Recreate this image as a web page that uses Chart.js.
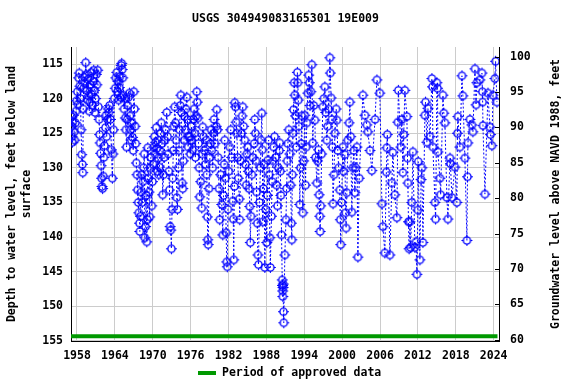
<!DOCTYPE html>
<html>
<head>
<meta charset="utf-8">
<script src="https://cdn.jsdelivr.net/npm/chart.js@4"></script>
<style>
  html, body { margin: 0; padding: 0; background: #fff; }
  canvas { display: block; }
</style>
</head>
<body>
<canvas id="chart" width="576" height="384"></canvas>
<script>
// water level measurements, decimal year and depth below land surface (ft)
const obsYears = [
  1957.10, 1957.15, 1957.20, 1957.25, 1957.35, 1957.45, 1957.55, 1957.65, 1957.75, 1957.85, 1957.95,
  1958.05, 1958.15, 1958.25, 1958.35, 1958.45, 1958.55, 1958.65, 1958.75, 1958.85, 1958.92, 1958.98,
  1959.05, 1959.15, 1959.25, 1959.38, 1959.45, 1959.55, 1959.65, 1959.75, 1959.85, 1959.95,
  1960.05, 1960.15, 1960.25, 1960.35, 1960.45, 1960.55, 1960.65, 1960.75, 1960.85, 1960.95,
  1961.05, 1961.15, 1961.28, 1961.40, 1961.50, 1961.58, 1961.66, 1961.74, 1961.82, 1961.90, 1961.96,
  1962.05, 1962.15, 1962.25, 1962.35, 1962.50, 1962.60, 1962.70, 1962.85, 1962.95,
  1963.05, 1963.15, 1963.30, 1963.45, 1963.60, 1963.70, 1963.80, 1963.90,
  1964.05, 1964.15, 1964.30, 1964.40, 1964.50, 1964.60, 1964.70, 1964.80, 1964.90,
  1965.00, 1965.08, 1965.15, 1965.25, 1965.35, 1965.45, 1965.55, 1965.65, 1965.75, 1965.85, 1965.95,
  1966.05, 1966.15, 1966.30, 1966.40, 1966.50, 1966.60, 1966.70, 1966.80, 1966.90,
  1967.00, 1967.10, 1967.20, 1967.30, 1967.40, 1967.50, 1967.60, 1967.70, 1967.80, 1967.90, 1967.95,
  1968.05, 1968.15, 1968.25, 1968.35, 1968.45, 1968.55, 1968.65, 1968.75, 1968.85, 1968.95,
  1969.05, 1969.15, 1969.21, 1969.30, 1969.40, 1969.52, 1969.60, 1969.70, 1969.84, 1969.95,
  1970.05, 1970.15, 1970.25, 1970.35, 1970.45, 1970.55, 1970.65, 1970.75, 1970.85, 1970.95,
  1971.05, 1971.15, 1971.25, 1971.35, 1971.45, 1971.58, 1971.70, 1971.80, 1971.90,
  1972.05, 1972.22, 1972.35, 1972.45, 1972.55, 1972.65, 1972.75, 1972.85, 1972.95,
  1973.05, 1973.15, 1973.25, 1973.35, 1973.48, 1973.60, 1973.70, 1973.80, 1973.90,
  1974.05, 1974.15, 1974.25, 1974.35, 1974.45, 1974.55, 1974.65, 1974.75, 1974.85, 1974.95,
  1975.05, 1975.15, 1975.25, 1975.39, 1975.50, 1975.60, 1975.70, 1975.86, 1975.95,
  1976.05, 1976.15, 1976.34, 1976.45, 1976.55, 1976.65, 1976.75, 1976.85, 1976.97,
  1977.05, 1977.15, 1977.25, 1977.35, 1977.45, 1977.60, 1977.76, 1977.85, 1977.92,
  1978.05, 1978.15, 1978.30, 1978.45, 1978.56, 1978.65, 1978.71, 1978.78, 1978.90,
  1979.05, 1979.15, 1979.25, 1979.35, 1979.50, 1979.60, 1979.70, 1979.85,
  1980.05, 1980.14, 1980.25, 1980.35, 1980.50, 1980.61, 1980.75, 1980.93,
  1981.09, 1981.20, 1981.30, 1981.40, 1981.50, 1981.62, 1981.72, 1981.80, 1981.90,
  1982.05, 1982.20, 1982.35, 1982.50, 1982.67, 1982.75, 1982.83, 1982.92, 1982.99,
  1983.10, 1983.20, 1983.31, 1983.45, 1983.55, 1983.70, 1983.78, 1983.90,
  1984.05, 1984.15, 1984.26, 1984.40, 1984.58, 1984.70, 1984.80, 1984.90,
  1985.05, 1985.15, 1985.25, 1985.37, 1985.45, 1985.55, 1985.70, 1985.85,
  1986.05, 1986.16, 1986.25, 1986.35, 1986.45, 1986.55, 1986.65, 1986.75, 1986.90,
  1987.05, 1987.15, 1987.27, 1987.35, 1987.43, 1987.55, 1987.65, 1987.75, 1987.90,
  1988.06, 1988.15, 1988.22, 1988.35, 1988.45, 1988.54, 1988.62, 1988.80, 1988.90,
  1989.05, 1989.15, 1989.30, 1989.45, 1989.60, 1989.75, 1989.90,
  1990.05, 1990.12, 1990.20, 1990.30, 1990.40, 1990.50, 1990.55, 1990.58, 1990.60, 1990.63, 1990.66, 1990.70, 1990.75, 1990.92,
  1991.10, 1991.20, 1991.30, 1991.40, 1991.55, 1991.71, 1991.85, 1991.95,
  1992.03, 1992.10, 1992.20, 1992.30, 1992.40, 1992.50, 1992.60, 1992.75, 1992.90, 1992.98,
  1993.05, 1993.15, 1993.29, 1993.40, 1993.50, 1993.60, 1993.77, 1993.90,
  1994.09, 1994.20, 1994.30, 1994.40, 1994.56, 1994.70, 1994.80, 1994.90,
  1995.05, 1995.20, 1995.35, 1995.50, 1995.67, 1995.80, 1995.99,
  1996.10, 1996.25, 1996.35, 1996.45, 1996.50, 1996.60, 1996.75, 1996.94,
  1997.10, 1997.26, 1997.40, 1997.57, 1997.70, 1997.85,
  1998.05, 1998.12, 1998.25, 1998.37, 1998.45, 1998.55, 1998.70, 1998.85,
  1999.05, 1999.16, 1999.30, 1999.45, 1999.63, 1999.70, 1999.78, 1999.90,
  2000.11, 2000.25, 2000.43, 2000.55, 2000.62, 2000.74, 2000.90,
  2001.10, 2001.22, 2001.35, 2001.53, 2001.70, 2001.85,
  2002.01, 2002.15, 2002.33, 2002.49, 2002.70,
  2003.28, 2003.60, 2003.91,
  2004.07, 2004.40, 2004.70,
  2005.20, 2005.50, 2005.97,
  2006.29, 2006.45, 2006.76,
  2007.00, 2007.08, 2007.15, 2007.56, 2007.87,
  2008.03, 2008.35, 2008.67, 2008.82, 2008.90,
  2009.30, 2009.46, 2009.62, 2009.75, 2009.93,
  2010.25, 2010.35, 2010.41, 2010.50, 2010.60, 2010.73, 2010.85,
  2011.04, 2011.20, 2011.52, 2011.70, 2011.84, 2011.99,
  2012.05, 2012.31, 2012.50, 2012.63, 2012.79,
  2013.10, 2013.20, 2013.42, 2013.58, 2013.90,
  2014.21, 2014.30, 2014.37, 2014.69, 2014.80,
  2015.01, 2015.10, 2015.16, 2015.48, 2015.60, 2015.96,
  2016.10, 2016.27, 2016.59, 2016.75,
  2017.07, 2017.15, 2017.38, 2017.86,
  2018.17, 2018.25, 2018.33, 2018.65, 2018.97,
  2019.12, 2019.44, 2019.76, 2019.85, 2019.92,
  2020.23, 2020.55, 2020.71,
  2021.03, 2021.20, 2021.34, 2021.82,
  2022.14, 2022.20, 2022.25, 2022.30, 2022.61,
  2023.09, 2023.40, 2023.50, 2023.72, 2023.88,
  2024.19, 2024.30, 2024.51
]
const obsDepths = [
  122.6, 124.0, 125.5, 126.3, 123.3, 122.4, 124.8, 126.0, 123.5, 121.8, 120.3,
  119.0, 120.8, 117.0, 116.3, 118.2, 120.0, 124.5, 128.1, 129.5, 130.7, 121.5,
  118.5, 116.9, 117.8, 114.8, 116.5, 118.8, 120.2, 117.2, 119.6, 121.8,
  120.5, 118.0, 116.2, 119.4, 121.0, 117.5, 115.9, 118.8, 122.0, 120.0,
  116.5, 118.0, 115.9, 121.2, 123.0, 125.2, 126.4, 127.9, 129.7, 131.5, 132.7,
  133.0, 131.2, 128.5, 126.8, 124.2, 122.4, 125.5, 123.0, 121.5,
  122.0, 121.0, 123.0, 127.4, 131.5, 128.0, 124.5, 120.0,
  118.5, 117.0, 116.2, 119.0, 117.5, 120.2, 118.4, 116.8, 119.8,
  115.2, 114.9, 115.8, 117.0, 119.5, 121.5, 120.0, 122.8, 124.5, 127.0, 123.0,
  121.0, 119.8, 119.2, 122.5, 124.5, 126.0, 123.5, 125.6, 127.5,
  119.0, 121.5, 124.0, 126.5, 129.3, 131.0, 133.2, 135.0, 136.5, 138.0, 139.2,
  137.0, 133.5, 131.0, 135.0, 132.0, 130.0, 128.0, 140.1, 138.5, 134.0,
  140.7, 137.5, 127.1, 131.5, 133.5, 137.1, 130.0, 128.5, 135.5, 132.0,
  129.5, 127.0, 125.5, 128.0, 126.3, 124.2, 127.2, 130.5, 128.6, 131.0,
  129.9, 127.5, 125.0, 123.5, 126.5, 133.9, 131.0, 128.5, 126.0,
  124.5, 122.0, 125.5, 128.0, 130.5, 133.2, 138.5, 139.0, 141.7,
  136.0, 131.5, 127.5, 124.0, 121.2, 123.5, 126.0, 134.3, 136.0,
  130.0, 127.5, 124.5, 121.0, 119.5, 122.0, 132.2, 133.0, 129.0, 126.0,
  122.6, 124.5, 121.5, 119.8, 123.0, 127.0, 125.5, 125.5, 128.0,
  126.0, 124.0, 127.4, 123.0, 121.5, 125.0, 128.5, 122.5, 119.0,
  120.5, 122.8, 126.5, 130.0, 134.2, 132.0, 135.8, 128.0, 124.1,
  125.5, 127.5, 129.5, 126.0, 131.0, 137.1, 140.4, 141.1, 133.0,
  128.5, 126.5, 124.5, 127.5, 130.0, 125.0, 123.0, 126.5,
  124.0, 121.6, 124.5, 128.5, 133.0, 137.5, 131.0, 135.3,
  139.7, 134.0, 129.5, 126.0, 131.5, 139.4, 143.6, 144.3, 136.0,
  130.5, 127.0, 124.5, 128.5, 134.8, 137.4, 143.3, 132.7, 120.6,
  121.2, 123.4, 125.0, 128.5, 131.5, 134.5, 137.5, 129.0,
  125.0, 122.5, 121.2, 124.0, 126.0, 129.5, 132.5, 128.0,
  127.0, 130.5, 133.0, 135.6, 140.8, 137.0, 131.0, 128.5,
  126.5, 123.0, 125.0, 129.0, 133.5, 138.0, 142.6, 144.0, 135.0,
  130.0, 126.0, 122.1, 127.4, 137.8, 133.0, 129.5, 144.4, 136.0,
  140.8, 134.0, 128.9, 126.0, 131.0, 140.1, 144.4, 137.0, 132.0,
  129.0, 127.0, 125.5, 128.5, 132.5, 135.5, 130.0,
  127.5, 126.4, 130.5, 134.0, 139.7, 146.2, 147.0, 147.8, 148.6, 147.3, 146.8, 150.8, 152.4, 142.6,
  137.5, 133.0, 129.0, 126.5, 124.5, 128.0, 132.5, 138.0,
  140.4, 131.0, 125.0, 121.6, 117.7, 119.5, 122.5, 127.0, 116.2, 117.7,
  120.2, 124.0, 135.3, 130.0, 126.5, 122.5, 136.5, 129.0,
  122.4, 132.5, 127.0, 123.5, 119.2, 116.6, 117.7, 121.0,
  119.0, 115.1, 126.4, 121.0, 123.1, 128.5, 132.2,
  129.0, 127.4, 133.9, 137.0, 139.2, 135.5, 128.0, 121.2,
  120.0, 118.3, 122.0, 126.0, 124.0, 121.5,
  114.1, 116.3, 119.9, 123.0, 127.0, 135.2, 131.0, 125.0,
  121.5, 123.1, 127.5, 130.0, 133.2, 137.5, 141.1, 135.0,
  127.0, 130.5, 128.1, 136.5, 138.7, 133.6, 126.0,
  123.5, 120.5, 125.5, 136.4, 130.0, 127.5,
  133.6, 130.0, 127.0, 142.9, 131.5,
  119.5, 122.4, 123.8,
  124.8, 127.5, 130.4,
  123.0, 117.3, 119.2,
  135.2, 138.5, 142.3,
  130.6, 127.1, 125.2, 142.6, 132.2,
  127.8, 133.9, 137.2, 123.4, 118.8,
  127.0, 123.0, 130.7, 125.2, 118.8,
  122.6, 128.6, 132.2, 137.8, 141.7, 137.8, 141.5,
  135.0, 127.7, 141.5, 140.7, 145.4, 136.1,
  129.1, 143.3, 131.7, 130.0, 140.8,
  122.4, 120.5, 126.3, 121.4, 125.5,
  117.1, 118.3, 127.0, 135.0, 137.4,
  117.7, 118.5, 127.7, 131.5, 133.9, 119.5,
  122.1, 123.5, 134.3, 137.4,
  128.6, 129.4, 134.3, 129.9,
  135.0, 125.0, 122.6, 127.0, 116.7,
  119.6, 128.6, 140.5, 131.3, 126.4,
  123.0, 123.8, 124.8,
  115.7, 120.9, 117.7, 117.3,
  116.3, 119.0, 120.5, 123.9, 133.8,
  119.2, 124.1, 125.2, 126.8, 119.5,
  117.1, 114.6, 120.5
]

// period of approved data (start, end) drawn near the bottom of the plot
const approvedSpan = [1957.05, 2024.6]
const approvedDepth = 154.35

const yearTicks = [1958, 1964, 1970, 1976, 1982, 1988, 1994, 2000, 2006, 2012, 2018, 2024]
const depthTicks = [115, 120, 125, 130, 135, 140, 145, 150, 155]
const elevTicks = [60, 65, 70, 75, 80, 85, 90, 95, 100]

const FONT = 'bold 11.5px "DejaVu Sans Mono", "Liberation Mono", monospace'
const BLUE = '#0000ff'
const GREEN = '#009900'

// hollow circle with little notches, like the usgs marker
function makeMarker() {
  const c = document.createElement('canvas')
  c.width = 13
  c.height = 13
  const g = c.getContext('2d')
  g.strokeStyle = BLUE
  g.lineWidth = 1.4
  g.beginPath()
  g.arc(6.5, 6.5, 3.6, 0, Math.PI * 2)
  g.stroke()
  g.fillStyle = BLUE
  g.fillRect(6, 1, 1, 2)
  g.fillRect(6, 10, 1, 2)
  g.fillRect(1, 6, 2, 1)
  g.fillRect(10, 6, 2, 1)
  return c
}

const frameText = {
  id: 'frameText',
  afterDraw(chart) {
    const { ctx, chartArea, scales } = chart
    ctx.save()

    // short inward ticks on the right axis
    ctx.strokeStyle = '#000'
    ctx.lineWidth = 1
    elevTicks.forEach(v => {
      const y = Math.round(scales.yRight.getPixelForValue(v)) + 0.5
      ctx.beginPath()
      ctx.moveTo(chartArea.right - 4, y)
      ctx.lineTo(chartArea.right, y)
      ctx.stroke()
    })

    ctx.fillStyle = '#000'
    ctx.font = FONT
    ctx.textAlign = 'center'
    ctx.textBaseline = 'middle'
    ctx.fillText('USGS 304949083165301 19E009', 285.5, 19)

    ctx.save()
    ctx.translate(12, 194)
    ctx.rotate(-Math.PI / 2)
    ctx.fillText('Depth to water level, feet below land', 0, 0)
    ctx.restore()
    ctx.save()
    ctx.translate(27, 194)
    ctx.rotate(-Math.PI / 2)
    ctx.fillText('surface', 0, 0)
    ctx.restore()

    ctx.save()
    ctx.translate(556, 194)
    ctx.rotate(-Math.PI / 2)
    ctx.fillText('Groundwater level above NAVD 1988, feet', 0, 0)
    ctx.restore()

    // legend
    ctx.fillStyle = GREEN
    ctx.fillRect(198, 371, 18, 4)
    ctx.fillStyle = '#000'
    ctx.textAlign = 'left'
    ctx.fillText('Period of approved data', 222, 373)
    ctx.restore()
  }
}

const points = obsYears.map((x, i) => ({ x: x, y: obsDepths[i] }))

new Chart(document.getElementById('chart'), {
  type: 'scatter',
  data: {
    datasets: [
      {
        label: 'Period of approved data',
        data: approvedSpan.map(x => ({ x: x, y: approvedDepth })),
        showLine: true,
        borderColor: GREEN,
        borderWidth: 4,
        pointRadius: 0,
        yAxisID: 'y'
      },
      {
        label: 'Depth to water level',
        data: points,
        showLine: true,
        borderColor: BLUE,
        borderWidth: 1,
        borderDash: [2, 2],
        pointStyle: makeMarker(),
        yAxisID: 'y'
      }
    ]
  },
  options: {
    responsive: false,
    animation: false,
    layout: { padding: { top: 47, left: 0, right: 0, bottom: 0 } },
    plugins: {
      legend: { display: false },
      title: { display: false },
      tooltip: { enabled: false }
    },
    scales: {
      x: {
        type: 'linear',
        min: 1957.05,
        max: 2024.84,
        afterBuildTicks: s => { s.ticks = yearTicks.map(v => ({ value: v })) },
        afterFit: s => { s.height = 43 },
        grid: { color: '#cccccc', drawTicks: false },
        border: { color: '#000', width: 1 },
        ticks: { color: '#000', font: { family: '"DejaVu Sans Mono"', size: 11.5, weight: 'bold' }, padding: 8, maxRotation: 0, callback: v => String(v) }
      },
      y: {
        position: 'left',
        reverse: true,
        min: 112.54,
        max: 155.03,
        afterBuildTicks: s => { s.ticks = depthTicks.map(v => ({ value: v })) },
        afterFit: s => { s.width = 71 },
        grid: { color: '#cccccc', drawTicks: false },
        border: { color: '#000', width: 1 },
        ticks: { color: '#000', font: { family: '"DejaVu Sans Mono"', size: 11.5, weight: 'bold' }, padding: 8 }
      },
      yRight: {
        position: 'right',
        min: 59.84,
        max: 101.37,
        afterBuildTicks: s => { s.ticks = elevTicks.map(v => ({ value: v })) },
        afterFit: s => { s.width = 77 },
        grid: { display: false, drawTicks: false },
        border: { color: '#000', width: 1 },
        ticks: { color: '#000', font: { family: '"DejaVu Sans Mono"', size: 11.5, weight: 'bold' }, padding: 11 }
      }
    }
  },
  plugins: [frameText]
})
</script>
</body>
</html>
